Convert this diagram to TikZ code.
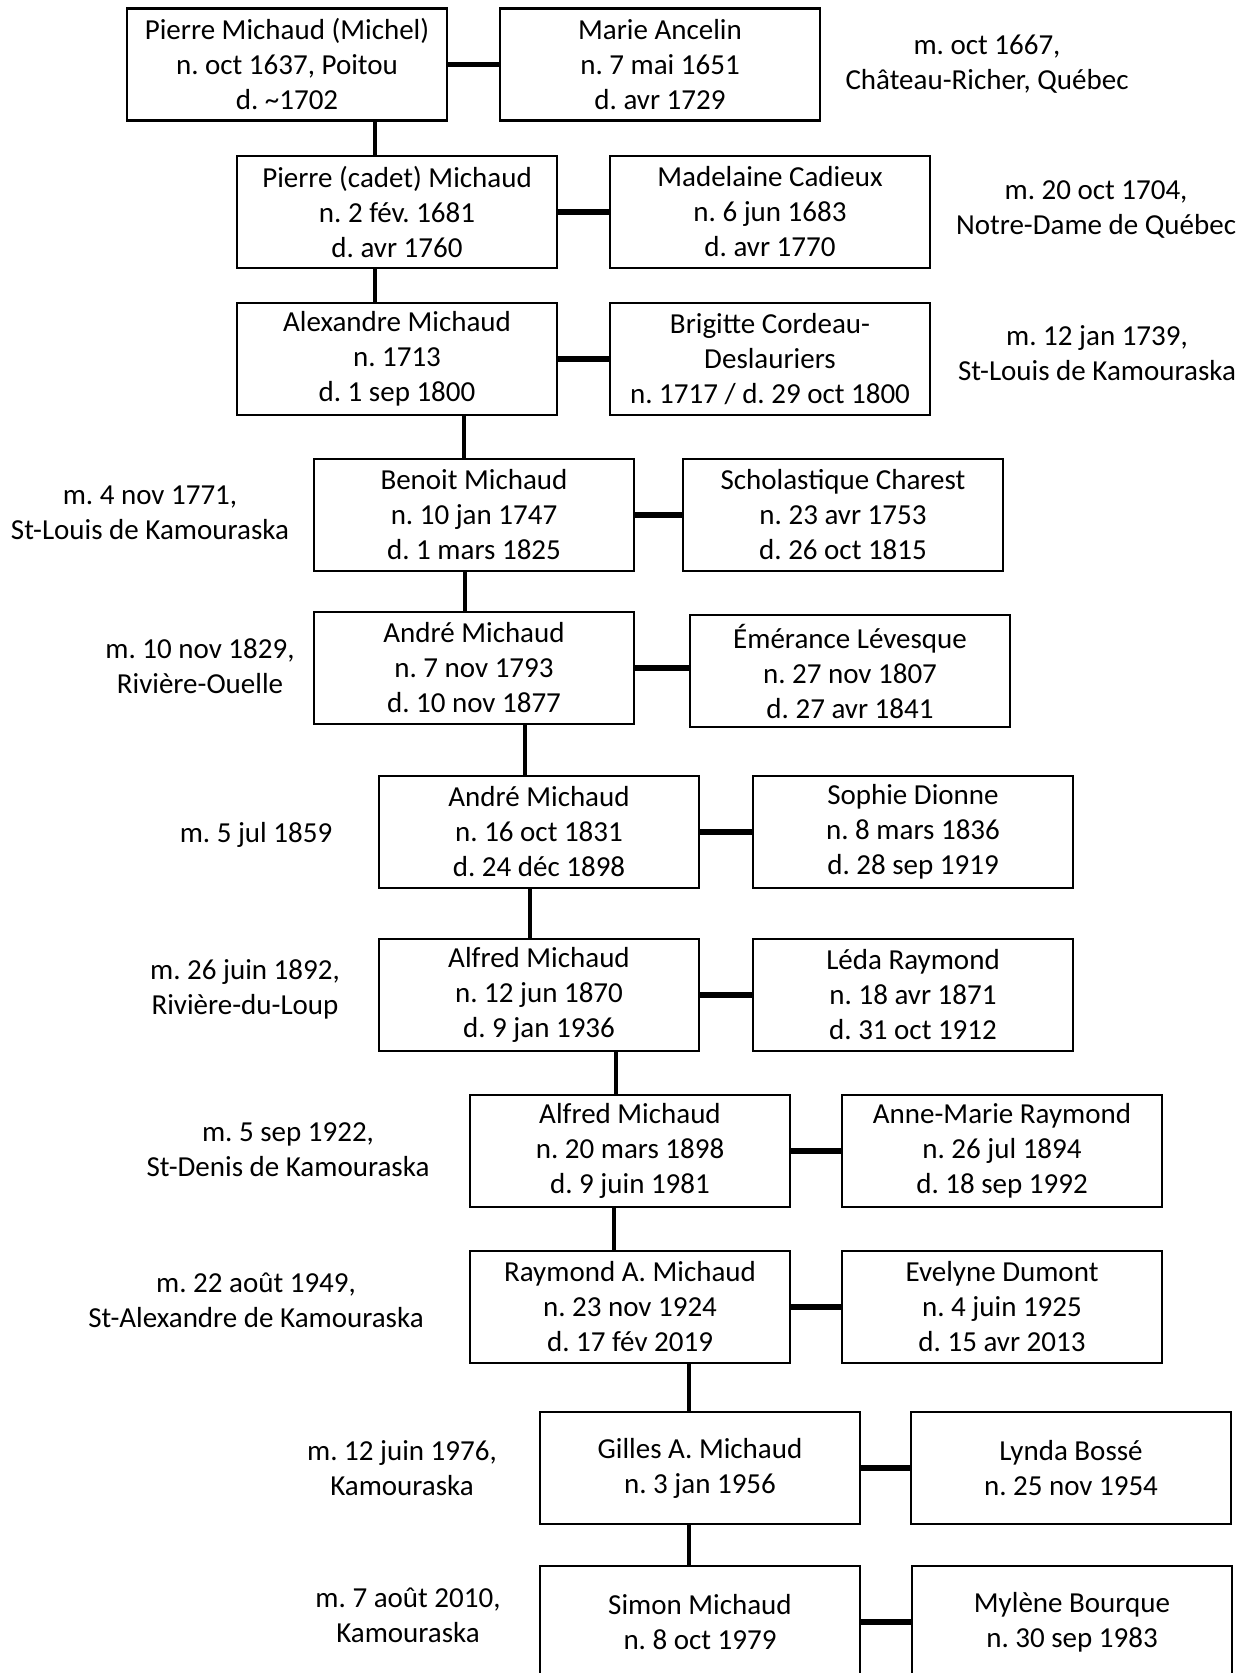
\documentclass[tikz,border=0pt]{standalone}
\usepackage{fontspec}
\setmainfont{Carlito}
\frenchspacing
\tikzset{
  personbox/.style={draw, line width=2.5pt, minimum width=320pt, minimum height=112pt,
    align=center, inner sep=0pt, font=\fontsize{29}{35}\selectfont},
  marriage/.style={align=center, font=\fontsize{29}{35}\selectfont},
  childlink/.style={line width=3.5pt},
  spouselink/.style={line width=5.5pt}
}
\begin{document}
\begin{tikzpicture}[x=1pt,y=-1pt]
\useasboundingbox (0,0) rectangle (1243,1673);
\clip (0,0) rectangle (1243,1673);
% generation 1
\node[personbox] (p1) at (287,64.5) {Pierre Michaud (Michel)\\n. oct 1637, Poitou\\d. \textasciitilde 1702};
\node[personbox] (s1) at (660,64.5) {Marie Ancelin\\n. 7 mai 1651\\d. avr 1729};
\node[marriage] (m1) at (987,64) {m. oct 1667,\\Château-Richer, Québec};
% generation 2
\node[personbox] (p2) at (397,212) {Pierre (cadet) Michaud\\n. 2 fév. 1681\\d. avr 1760};
\node[personbox] (s2) at (770,212) {Madelaine Cadieux\\n. 6 jun 1683\\d. avr 1770};
\node[marriage] (m2) at (1096,210) {m. 20 oct 1704,\\Notre-Dame de Québec};
% generation 3
\node[personbox] (p3) at (397,359) {Alexandre Michaud\\n. 1713\\d. 1 sep 1800};
\node[personbox] (s3) at (770,359) {Brigitte Cordeau-\\Deslauriers\\n. 1717 / d. 29 oct 1800};
\node[marriage] (m3) at (1097,353) {m. 12 jan 1739,\\St-Louis de Kamouraska};
% generation 4
\node[personbox] (p4) at (474,515) {Benoit Michaud\\n. 10 jan 1747\\d. 1 mars 1825};
\node[personbox] (s4) at (843,515) {Scholastique Charest\\n. 23 avr 1753\\d. 26 oct 1815};
\node[marriage] (m4) at (150,513) {m. 4 nov 1771,\\St-Louis de Kamouraska};
% generation 5
\node[personbox] (p5) at (474,668) {André Michaud\\n. 7 nov 1793\\d. 10 nov 1877};
\node[personbox] (s5) at (850,671) {Émérance Lévesque\\n. 27 nov 1807\\d. 27 avr 1841};
\node[marriage] (m5) at (200,666) {m. 10 nov 1829,\\Rivière-Ouelle};
% generation 6
\node[personbox] (p6) at (539,832) {André Michaud\\n. 16 oct 1831\\d. 24 déc 1898};
\node[personbox] (s6) at (913,832) {Sophie Dionne\\n. 8 mars 1836\\d. 28 sep 1919};
\node[marriage] (m6) at (256,835) {m. 5 jul 1859};
% generation 7
\node[personbox] (p7) at (539,995) {Alfred Michaud\\n. 12 jun 1870\\d. 9 jan 1936};
\node[personbox] (s7) at (913,995) {Léda Raymond\\n. 18 avr 1871\\d. 31 oct 1912};
\node[marriage] (m7) at (245,989) {m. 26 juin 1892,\\Rivière-du-Loup};
% generation 8
\node[personbox] (p8) at (630,1151) {Alfred Michaud\\n. 20 mars 1898\\d. 9 juin 1981};
\node[personbox] (s8) at (1002,1151) {Anne-Marie Raymond\\n. 26 jul 1894\\d. 18 sep 1992};
\node[marriage] (m8) at (288,1150) {m. 5 sep 1922,\\St-Denis de Kamouraska};
% generation 9
\node[personbox] (p9) at (630,1307) {Raymond A. Michaud\\n. 23 nov 1924\\d. 17 fév 2019};
\node[personbox] (s9) at (1002,1307) {Evelyne Dumont\\n. 4 juin 1925\\d. 15 avr 2013};
\node[marriage] (m9) at (256,1300) {m. 22 août 1949,\\St-Alexandre de Kamouraska};
% generation 10
\node[personbox] (p10) at (700,1468) {Gilles A. Michaud\\n. 3 jan 1956};
\node[personbox] (s10) at (1071,1468) {Lynda Bossé\\n. 25 nov 1954};
\node[marriage] (m10) at (402,1468) {m. 12 juin 1976,\\Kamouraska};
% generation 11
\node[personbox] (p11) at (700,1622) {Simon Michaud\\n. 8 oct 1979};
\node[personbox] (s11) at (1072,1622) {Mylène Bourque\\n. 30 sep 1983};
\node[marriage] (m11) at (408,1615) {m. 7 août 2010,\\Kamouraska};
% spouses
\draw[spouselink] (p1.east) -- (p1.east -| s1.west);
\draw[spouselink] (p2.east) -- (p2.east -| s2.west);
\draw[spouselink] (p3.east) -- (p3.east -| s3.west);
\draw[spouselink] (p4.east) -- (p4.east -| s4.west);
\draw[spouselink] (p5.east) -- (p5.east -| s5.west);
\draw[spouselink] (p6.east) -- (p6.east -| s6.west);
\draw[spouselink] (p7.east) -- (p7.east -| s7.west);
\draw[spouselink] (p8.east) -- (p8.east -| s8.west);
\draw[spouselink] (p9.east) -- (p9.east -| s9.west);
\draw[spouselink] (p10.east) -- (p10.east -| s10.west);
\draw[spouselink] (p11.east) -- (p11.east -| s11.west);
% descent
\draw[childlink] ([xshift=88pt]p1.south) -- ([xshift=88pt]p1.south |- p2.north);
\draw[childlink] ([xshift=-22pt]p2.south) -- ([xshift=-22pt]p2.south |- p3.north);
\draw[childlink] ([xshift=67pt]p3.south) -- ([xshift=67pt]p3.south |- p4.north);
\draw[childlink] ([xshift=-9pt]p4.south) -- ([xshift=-9pt]p4.south |- p5.north);
\draw[childlink] ([xshift=51pt]p5.south) -- ([xshift=51pt]p5.south |- p6.north);
\draw[childlink] ([xshift=-9pt]p6.south) -- ([xshift=-9pt]p6.south |- p7.north);
\draw[childlink] ([xshift=77pt]p7.south) -- ([xshift=77pt]p7.south |- p8.north);
\draw[childlink] ([xshift=-16pt]p8.south) -- ([xshift=-16pt]p8.south |- p9.north);
\draw[childlink] ([xshift=59pt]p9.south) -- ([xshift=59pt]p9.south |- p10.north);
\draw[childlink] ([xshift=-11pt]p10.south) -- ([xshift=-11pt]p10.south |- p11.north);
\end{tikzpicture}
\end{document}
